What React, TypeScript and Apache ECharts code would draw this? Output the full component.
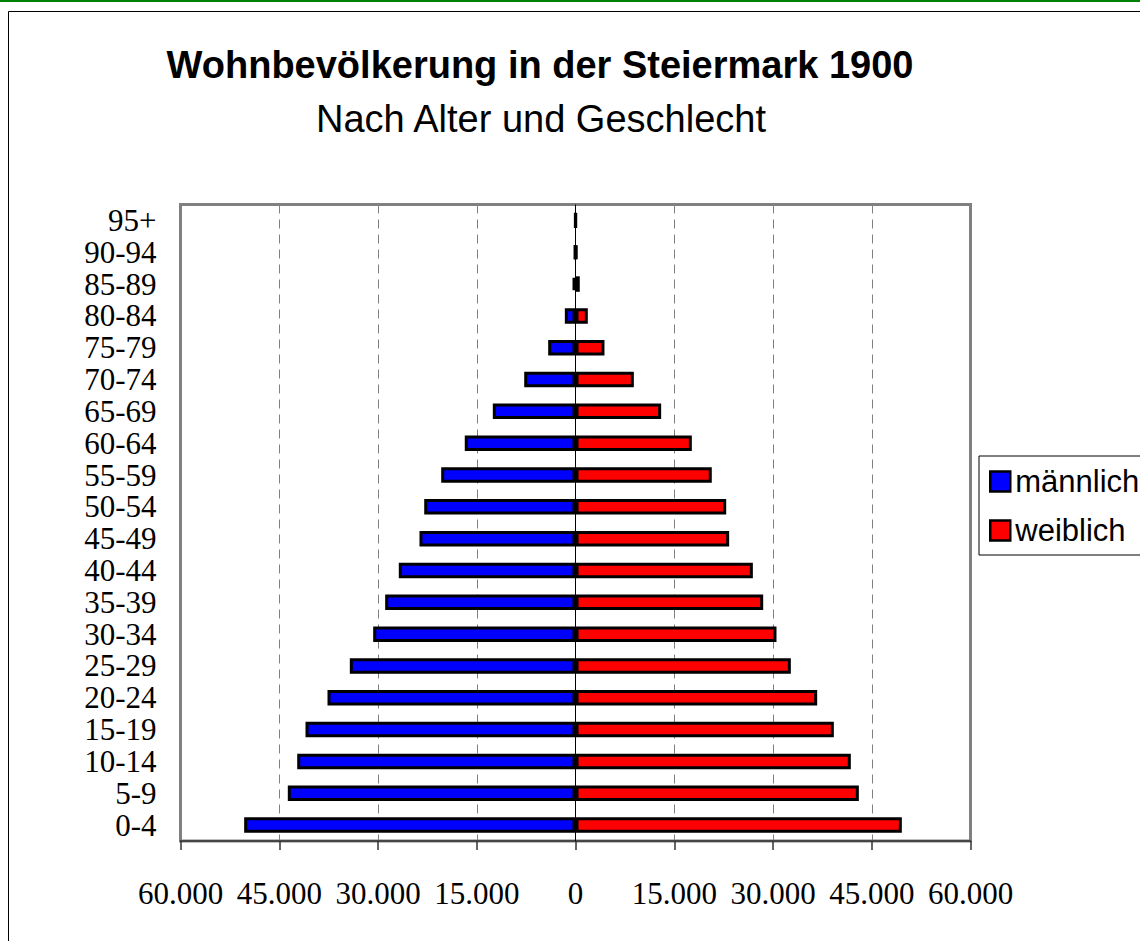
import React, { useEffect, useRef } from "react";
import * as echarts from "echarts";

const ageGroups = [
  "0-4", "5-9", "10-14", "15-19", "20-24", "25-29", "30-34", "35-39", "40-44", "45-49",
  "50-54", "55-59", "60-64", "65-69", "70-74", "75-79", "80-84", "85-89", "90-94", "95+",
];
const maleValues = [
  50330, 43700, 42270, 41010, 37670, 34280, 30730, 28910, 26840, 23700,
  22980, 20400, 16820, 12560, 7790, 4150, 1620, 450, 140, 40,
];
const femaleValues = [
  49570, 43040, 41820, 39240, 36710, 32710, 30530, 28510, 26940, 23340,
  22890, 20700, 17670, 13010, 8860, 4400, 1870, 650, 220, 70,
];
const titleText = "Wohnbevölkerung in der Steiermark 1900";
const subtitleText = "Nach Alter und Geschlecht";
const seriesNames = ["männlich", "weiblich"];

const SANS = "Arial, 'Liberation Sans', sans-serif";
const SERIF = "'Times New Roman', 'Liberation Serif', serif";

function fmt(v: number): string {
  const a = Math.abs(Math.round(v));
  return a.toString().replace(/\B(?=(\d{3})+(?!\d))/g, ".");
}

export default function App() {
  const ref = useRef<HTMLDivElement>(null);
  useEffect(() => {
    document.body.style.margin = "0";
    const chart = echarts.init(ref.current!, undefined, { renderer: "svg" });
    chart.setOption({
      animation: false,
      backgroundColor: "#fff",
      graphic: [
        { type: "rect", z: -10, shape: { x: 0, y: 0, width: 1140, height: 2 }, style: { fill: "#008000" } },
        { type: "rect", z: -10, shape: { x: 8.5, y: 11.5, width: 1300, height: 1100 }, style: { fill: "none", stroke: "#000", lineWidth: 1 } },
        {
          type: "text", x: 540, y: 65, style: {
            text: titleText, fontFamily: SANS, fontWeight: "bold", fontSize: 38,
            fill: "#000", align: "center", verticalAlign: "middle",
          },
        },
        {
          type: "text", x: 541, y: 119, style: {
            text: subtitleText, fontFamily: SANS, fontSize: 38,
            fill: "#000", align: "center", verticalAlign: "middle",
          },
        },
      ],
      legend: {
        orient: "vertical",
        left: 979,
        top: 456,
        data: seriesNames,
        icon: "rect",
        itemWidth: 20,
        itemHeight: 20,
        itemGap: 18,
        padding: [10, 12, 9, 10],
        borderColor: "#000",
        borderWidth: 1,
        backgroundColor: "#fff",
        itemStyle: { borderColor: "#000", borderWidth: 2.5 },
        textStyle: { fontFamily: SANS, fontSize: 31, color: "#000", lineHeight: 28, padding: [3, 0, 0, 0] },
      },
      grid: {
        left: 180.5,
        right: 169.5,
        top: 204.5,
        bottom: 100,
        show: true,
        borderColor: "#808080",
        borderWidth: 3,
        backgroundColor: "#fff",
      },
      xAxis: {
        type: "value",
        min: -60000,
        max: 60000,
        interval: 15000,
        axisLine: { show: true, onZero: false, lineStyle: { color: "#333", width: 1.5 } },
        axisTick: { show: true, length: 9, lineStyle: { color: "#333", width: 1.5 } },
        splitLine: { show: true, lineStyle: { color: "#808080", width: 1, type: [9, 6] } },
        axisLabel: {
          formatter: (v: number) => fmt(v),
          fontFamily: SERIF,
          fontSize: 31,
          color: "#000",
          margin: 37,
        },
      },
      yAxis: {
        type: "category",
        data: ageGroups,
        axisLine: { show: false },
        axisTick: { show: false },
        splitLine: { show: false },
        axisLabel: { interval: 0, fontFamily: SERIF, fontSize: 31, color: "#000", margin: 24 },
      },
      series: [
        {
          name: seriesNames[0],
          type: "bar",
          data: maleValues.map((v) => -v),
          barWidth: 15.5,
          barGap: "-100%",
          itemStyle: { color: "#0000FF", borderColor: "#000", borderWidth: 3 },
          markLine: {
            silent: true,
            symbol: ["none", "none"],
            label: { show: false },
            lineStyle: { color: "#000", width: 1, type: "solid" },
            data: [{ xAxis: 0 }],
          },
        },
        {
          name: seriesNames[1],
          type: "bar",
          data: femaleValues,
          barWidth: 15.5,
          barGap: "-100%",
          itemStyle: { color: "#FF0000", borderColor: "#000", borderWidth: 3 },
        },
      ],
    });
    return () => chart.dispose();
  }, []);
  return <div ref={ref} style={{ width: 1140, height: 941 }} />;
}
